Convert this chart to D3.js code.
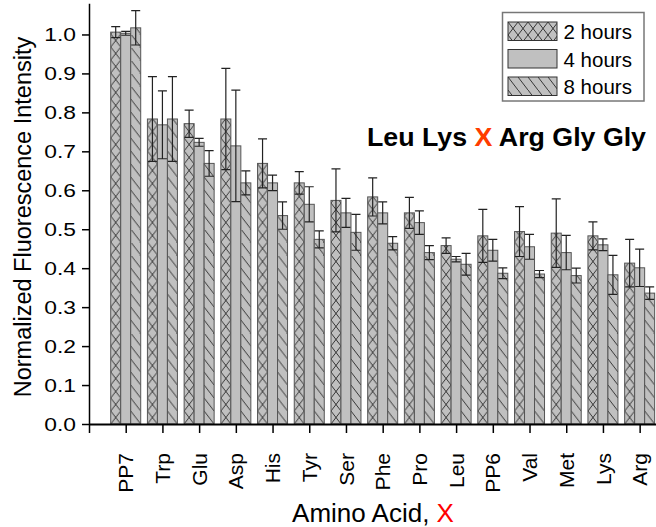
<!DOCTYPE html>
<html>
<head>
<meta charset="utf-8">
<script src="https://cdn.jsdelivr.net/npm/d3@7"></script>
<style>
  body { margin: 0; background: #fff; }
  svg { display: block; font-family: Arial, "Liberation Sans", sans-serif; }
</style>
</head>
<body>
<div id="chart"></div>
<script>
// Data
const categories = ["PP7", "Trp", "Glu", "Asp", "His", "Tyr", "Ser", "Phe", "Pro", "Leu", "PP6", "Val", "Met", "Lys", "Arg"];
const series = ["2 hours", "4 hours", "8 hours"];
const mean2h = [1.006, 0.783, 0.771, 0.783, 0.669, 0.619, 0.574, 0.583, 0.542, 0.458, 0.483, 0.494, 0.490, 0.483, 0.413];
const err2h  = [0.014, 0.109, 0.035, 0.130, 0.063, 0.029, 0.081, 0.049, 0.040, 0.020, 0.068, 0.064, 0.088, 0.036, 0.061];
const mean4h = [1.003, 0.768, 0.723, 0.714, 0.619, 0.564, 0.542, 0.542, 0.517, 0.423, 0.446, 0.455, 0.440, 0.460, 0.401];
const err4h  = [0.005, 0.087, 0.010, 0.143, 0.020, 0.045, 0.037, 0.028, 0.030, 0.007, 0.028, 0.032, 0.044, 0.015, 0.048];
const mean8h = [1.017, 0.783, 0.669, 0.619, 0.535, 0.474, 0.492, 0.464, 0.440, 0.410, 0.387, 0.385, 0.381, 0.383, 0.336];
const err8h  = [0.044, 0.109, 0.033, 0.031, 0.035, 0.022, 0.046, 0.017, 0.018, 0.028, 0.014, 0.009, 0.019, 0.050, 0.016];
const yTicks = [0, 0.1, 0.2, 0.3, 0.4, 0.5, 0.6, 0.7, 0.8, 0.9, 1.0];

const means = [mean2h, mean4h, mean8h];
const errs = [err2h, err4h, err8h];
const hatch = ["cross", "none", "diag"];

// Flatten into bar records
const bars = [];
categories.forEach((c, i) => {
  series.forEach((s, j) => {
    bars.push({ cat: c, idx: i + 1, s: s, j: j, v: means[j][i], e: errs[j][i] });
  });
});

const width = 656, height = 527;
const svg = d3.select("#chart").append("svg")
  .attr("width", width)
  .attr("height", height);

// Scales
const x = d3.scaleLinear().domain([0, 16]).range([89, 89 + 36.71 * 16]);
const sub = d3.scaleBand().domain(series).range([-15, 15]);
const y = d3.scaleLinear().domain([0, 1.08]).range([424, 3.3]);

const barFill = "#c0c0c0";
const defs = svg.append("defs");

// One pattern per hatched bar so the hatching lines up with the bar edge
function addPattern(id, kind, ox, oy) {
  const p = defs.append("pattern")
    .attr("id", id)
    .attr("patternUnits", "userSpaceOnUse")
    .attr("x", ox).attr("y", oy)
    .attr("width", 10).attr("height", 13);
  p.append("rect").attr("width", 10).attr("height", 13).attr("fill", barFill);
  let d = "M-1,-1.3L11,14.3";
  if (kind === "cross") d += "M11,-1.3L-1,14.3";
  p.append("path").attr("d", d).attr("stroke", "#111").attr("stroke-width", 0.8).attr("fill", "none");
}

function fillFor(d) {
  if (hatch[d.j] === "none") return barFill;
  const id = "pat-" + d.idx + "-" + d.j;
  addPattern(id, hatch[d.j], x(d.idx) + sub(d.s), y(0));
  return "url(#" + id + ")";
}

// Bars
svg.append("g").selectAll("rect")
  .data(bars)
  .join("rect")
  .attr("x", d => x(d.idx) + sub(d.s))
  .attr("y", d => y(d.v))
  .attr("width", sub.bandwidth())
  .attr("height", d => y(0) - y(d.v))
  .attr("fill", d => fillFor(d))
  .attr("stroke", "#555")
  .attr("stroke-width", 1);

// Error bars
const eg = svg.append("g").attr("stroke", "#222").attr("stroke-width", 1.2).attr("fill", "none");
eg.selectAll("path")
  .data(bars)
  .join("path")
  .attr("d", d => {
    const cx = x(d.idx) + sub(d.s) + sub.bandwidth() / 2;
    const top = y(d.v + d.e), bot = y(d.v - d.e);
    return "M" + cx + "," + top + "V" + bot +
      "M" + (cx - 4.5) + "," + top + "H" + (cx + 4.5) +
      "M" + (cx - 4.5) + "," + bot + "H" + (cx + 4.5);
  });

// Stretch text horizontally to match the figure
function stretch(sel, k) {
  sel.each(function() {
    const w = this.getComputedTextLength();
    d3.select(this).attr("textLength", w * k).attr("lengthAdjust", "spacingAndGlyphs");
  });
}

// Y axis
const yAxis = svg.append("g")
  .attr("transform", "translate(" + x(0) + ",0)")
  .call(d3.axisLeft(y).tickValues(yTicks).tickFormat(d3.format(".1f")).tickSize(7).tickSizeOuter(0).tickPadding(6));
yAxis.select(".domain").attr("stroke-width", 1.5);
yAxis.selectAll(".tick line").attr("stroke-width", 1.5);
yAxis.selectAll(".tick text")
  .attr("font-size", 19)
  .attr("font-family", "Arial, 'Liberation Sans', sans-serif")
  .attr("fill", "#000")
  .call(stretch, 1.2);

// X axis
const xAxis = svg.append("g")
  .attr("transform", "translate(0," + y(0) + ")")
  .call(d3.axisBottom(x).tickValues(d3.range(0, 17)).tickSize(9).tickSizeOuter(0).tickFormat(""));
xAxis.select(".domain").attr("stroke-width", 2);
xAxis.selectAll(".tick line").attr("stroke-width", 1.5);

// Category labels
svg.append("g").selectAll("text")
  .data(categories)
  .join("text")
  .attr("transform", (d, i) => "translate(" + x(i + 1) + ",453) rotate(-90)")
  .attr("text-anchor", "end")
  .attr("dy", "0.36em")
  .attr("font-size", 21)
  .text(d => d);

// Axis titles
svg.append("text")
  .attr("transform", "translate(31,217) rotate(-90)")
  .attr("text-anchor", "middle")
  .attr("font-size", 23.5)
  .text("Normalized Fluorescence Intensity");

const xt = svg.append("text")
  .attr("x", 373)
  .attr("y", 522)
  .attr("text-anchor", "middle")
  .attr("font-size", 26);
xt.append("tspan").text("Amino Acid, ");
xt.append("tspan").attr("fill", "#ff0000").text("X");

// Sequence annotation
const title = svg.append("text")
  .attr("x", 367)
  .attr("y", 146)
  .attr("font-size", 25)
  .attr("font-weight", "bold");
title.append("tspan").text("Leu Lys ");
title.append("tspan").attr("fill", "#ff3c00").text("X");
title.append("tspan").text(" Arg Gly Gly");
title.call(stretch, 1.07);

// Legend
const legend = svg.append("g");
legend.append("rect")
  .attr("x", 502.5).attr("y", 12.5)
  .attr("width", 141.5).attr("height", 88.5)
  .attr("fill", "#fff")
  .attr("stroke", "#777")
  .attr("stroke-width", 1.5);

const legendRows = [22, 49.5, 77];
series.forEach((s, j) => {
  let fill = barFill;
  if (hatch[j] !== "none") {
    addPattern("leg-" + j, hatch[j], 508, legendRows[j]);
    fill = "url(#leg-" + j + ")";
  }
  legend.append("rect")
    .attr("x", 508).attr("y", legendRows[j])
    .attr("width", 49).attr("height", 18.5)
    .attr("fill", fill)
    .attr("stroke", "#333")
    .attr("stroke-width", 1);
  legend.append("text")
    .attr("x", 563.5)
    .attr("y", legendRows[j] + 17)
    .attr("font-size", 20.5)
    .text(s);
});
</script>
</body>
</html>
